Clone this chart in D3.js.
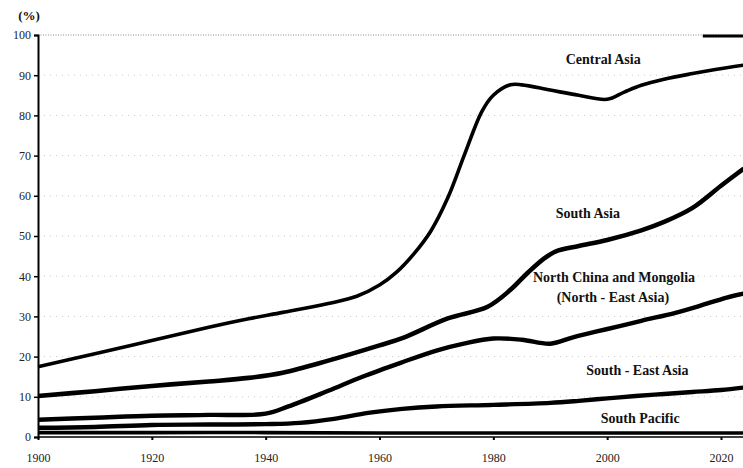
<!DOCTYPE html>
<html>
<head>
<meta charset="utf-8">
<script src="https://cdn.jsdelivr.net/npm/d3@7"></script>
<style>
  html, body { margin: 0; padding: 0; background: #fff; }
  svg { display: block; }
</style>
</head>
<body>
<svg id="chart" width="743" height="468"></svg>
<script>
// Share of urban population by region, 1900–2024 (%)
const centralAsiaYears = [1900, 1910, 1920, 1930, 1937, 1943, 1951, 1956, 1960, 1963, 1966, 1969, 1972, 1975, 1978, 1980, 1983, 1985, 1990, 1995, 2000, 2003, 2006, 2010, 2015, 2019, 2024];
const centralAsiaValues = [17.5, 20.7, 24, 27.3, 29.4, 31, 33.2, 35, 37.8, 41, 45.5, 51.2, 59.5, 70.5, 81, 85, 87.6, 87.6, 86.3, 85, 84, 85.8, 87.5, 89, 90.4, 91.4, 92.5];

const southAsiaYears = [1900, 1910, 1920, 1930, 1937, 1943, 1951, 1960, 1964, 1972, 1979, 1983, 1986, 1989, 1991, 1995, 2000, 2006, 2010, 2015, 2020, 2024];
const southAsiaValues = [10.2, 11.4, 12.7, 13.8, 14.7, 16, 19, 22.8, 24.6, 29.5, 32.4, 36.6, 40.8, 44.5, 46.2, 47.5, 49, 51.4, 53.5, 57, 62.5, 66.8];

const northChinaYears = [1900, 1910, 1920, 1930, 1940, 1944, 1951, 1957, 1964, 1970, 1975, 1980, 1985, 1990, 1994, 1998, 2002, 2006, 2012, 2016, 2021, 2024];
const northChinaValues = [4.3, 4.8, 5.3, 5.5, 5.8, 7.6, 11.5, 15, 18.6, 21.5, 23.3, 24.5, 24.2, 23.2, 24.8, 26.2, 27.5, 28.9, 30.9, 32.5, 34.7, 35.7];

const southEastAsiaYears = [1900, 1910, 1920, 1930, 1940, 1946, 1952, 1958, 1964, 1970, 1980, 1990, 1995, 2000, 2005, 2010, 2015, 2020, 2024];
const southEastAsiaValues = [2.3, 2.5, 3, 3.1, 3.2, 3.5, 4.5, 6, 7, 7.6, 8, 8.5, 9, 9.6, 10.2, 10.7, 11.2, 11.7, 12.3];

const southPacificYears = [1900, 1920, 1940, 1960, 1980, 2000, 2024];
const southPacificValues = [1.1, 1.1, 1.1, 1.0, 1.0, 1.0, 1.0];

const yTicks = [0, 10, 20, 30, 40, 50, 60, 70, 80, 90, 100];
const xTicks = [1900, 1920, 1940, 1960, 1980, 2000, 2020];
const xTickLabels = ["1900", "1920", "1940", "1960", "1980", "2000", "2020"];

const seriesNames = ["Central Asia", "South Asia", "North China and Mongolia", "South - East Asia", "South Pacific"];

const serif = "'Liberation Serif', 'DejaVu Serif', serif";

const svg = d3.select("#chart");

const x = d3.scaleLinear().domain([1900, 2020]).range([38, 721]);
const y = d3.scaleLinear().domain([0, 100]).range([437, 35]);
const xRight = x(2024);

// dotted horizontal gridlines
svg.append("g")
  .selectAll("line")
  .data(yTicks.filter(d => d > 0))
  .join("line")
  .attr("x1", x(1900)).attr("x2", xRight)
  .attr("y1", d => y(d)).attr("y2", d => y(d))
  .attr("stroke", d => d === 100 ? "#888" : "#c8c8c8")
  .attr("stroke-width", 1)
  .attr("stroke-dasharray", d => d === 100 ? "1,1.5" : "1,5");

// short heavy rule at the top right
svg.append("line")
  .attr("x1", x(2016.8)).attr("x2", xRight)
  .attr("y1", y(100) + 1).attr("y2", y(100) + 1)
  .attr("stroke", "#000").attr("stroke-width", 3);

// series lines
const line = d3.line().x(d => x(d[0])).y(d => y(d[1])).curve(d3.curveCatmullRom.alpha(0.5));
const zip = (a, b) => a.map((v, i) => [v, b[i]]);

const series = [
  { name: seriesNames[0], pts: zip(centralAsiaYears, centralAsiaValues), w: 3.6 },
  { name: seriesNames[1], pts: zip(southAsiaYears, southAsiaValues), w: 4.6 },
  { name: seriesNames[2], pts: zip(northChinaYears, northChinaValues), w: 4.4 },
  { name: seriesNames[3], pts: zip(southEastAsiaYears, southEastAsiaValues), w: 4.4 },
  { name: seriesNames[4], pts: zip(southPacificYears, southPacificValues), w: 3.6 }
];

svg.append("g")
  .selectAll("path")
  .data(series)
  .join("path")
  .attr("d", d => line(d.pts))
  .attr("fill", "none")
  .attr("stroke", "#000")
  .attr("stroke-width", d => d.w)
  .attr("stroke-linejoin", "round");

// y axis
const yAxis = d3.axisLeft(y).tickValues(yTicks).tickSize(4).tickFormat(d3.format("d"));
const gy = svg.append("g").attr("transform", `translate(${x(1900)},0)`).call(yAxis)
  .attr("font-family", serif).attr("font-size", 12);
gy.select(".domain").attr("stroke", "#000").attr("stroke-width", 2);
gy.selectAll(".tick line").attr("stroke", "#000").attr("stroke-width", 1.5);
gy.selectAll(".tick text").attr("x", -7).attr("fill", "#222");

// x axis
const xAxis = d3.axisBottom(x).tickValues(xTicks).tickSize(3).tickFormat((d, i) => xTickLabels[i]);
const gx = svg.append("g").attr("transform", `translate(0,${y(0)})`).call(xAxis)
  .attr("font-family", serif).attr("font-size", 12);
gx.select(".domain").attr("d", `M${x(1900)},0H${xRight}`).attr("stroke", "#000").attr("stroke-width", 1.5);
gx.selectAll(".tick line").attr("stroke", "#000").attr("stroke-width", 2);
gx.selectAll(".tick text").attr("dy", "1.6em").attr("fill", "#222");

// unit label
svg.append("text").attr("x", 29).attr("y", 20)
  .attr("text-anchor", "middle")
  .attr("font-family", serif).attr("font-weight", "bold").attr("font-size", 13).attr("fill", "#111")
  .text("(%)");

// series labels
const labels = [
  { t: seriesNames[0], year: 1999.3, v: 93.7 },
  { t: seriesNames[1], year: 1996.6, v: 55.2 },
  { t: "North China and Mongolia", year: 2001.2, v: 39.3 },
  { t: "(North - East Asia)", year: 2001.0, v: 34.3 },
  { t: seriesNames[3], year: 2005.3, v: 16.1 },
  { t: seriesNames[4], year: 2005.8, v: 4.2 }
];
svg.append("g")
  .selectAll("text")
  .data(labels)
  .join("text")
  .attr("x", d => x(d.year))
  .attr("y", d => y(d.v))
  .attr("text-anchor", "middle")
  .attr("dominant-baseline", "middle")
  .attr("font-family", serif).attr("font-weight", "bold").attr("font-size", 14).attr("fill", "#111")
  .text(d => d.t);
</script>
</body>
</html>
